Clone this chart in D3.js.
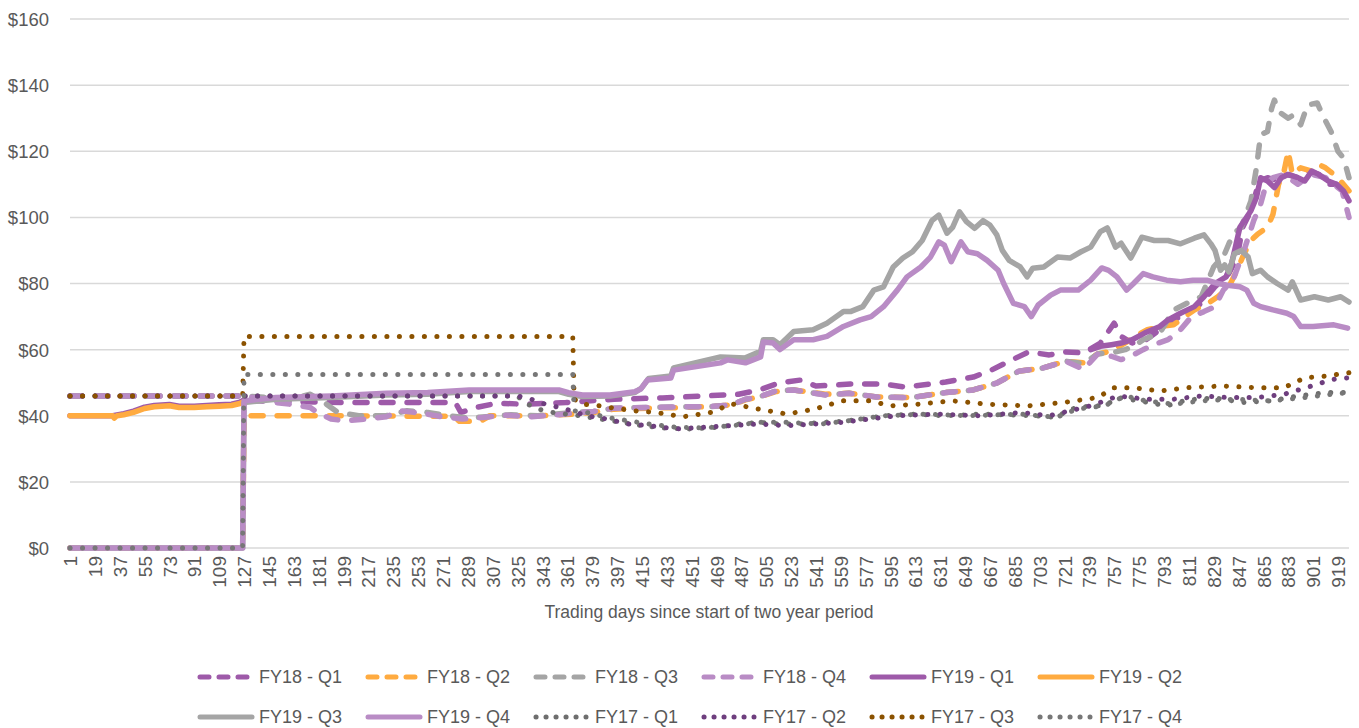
<!DOCTYPE html>
<html>
<head>
<meta charset="utf-8">
<title>Trading days</title>
<script src="https://cdn.jsdelivr.net/npm/d3@7"></script>
<style>
	body { margin: 0; background: #fff; }
	text { font-family: "Liberation Sans", Arial, sans-serif; fill: #595959; }
</style>
</head>
<body>
<div id="chart"></div>
<script>

// data: [trading day, value]
const FY18_Q1 = [[1,46],[126,46],[135,44.5],[200,44],[280,44],[284,41],[295,42.5],[310,43.8],[330,43.5],[360,44],[395,45],[430,45.4],[460,46],[485,46.5],[500,47.8],[515,50],[530,50.8],[541,49],[556,49.3],[566,49.6],[590,49.6],[605,48.7],[618,49.3],[635,50.2],[655,51.7],[668,53.8],[680,56.3],[695,59.3],[710,58.4],[722,59.3],[735,59],[747,62],[757,68],[762,64],[770,62],[780,63],[790,66],[800,69],[810,71],[820,74],[830,79],[840,83],[846,88],[850,97],[856,102],[862,111],[868,112],[876,111],[882,113],[890,112],[898,114],[905,113],[912,110],[918,110],[927,106]];
const FY18_Q2 = [[1,0],[126,0],[127,40],[200,40],[279,39.8],[283,38.3],[298,38.3],[305,40],[340,40],[365,40.5],[380,41],[395,42],[420,42.3],[445,42.5],[465,42.8],[480,43.3],[490,44.8],[500,45.7],[512,47.3],[525,47.8],[548,46.5],[565,46.8],[585,45.7],[610,45.5],[635,47],[655,47.8],[672,49.9],[688,53.5],[705,54.4],[722,56.5],[735,56],[745,58.7],[755,59.5],[765,62],[772,64],[781,66],[791,67],[800,67.5],[815,72],[825,74],[832,76],[840,79],[846,84],[851,89],[856,93],[861,95],[868,97],[872,101],[876,110],[880,114],[883,120],[886,113],[892,115],[900,114],[905,116],[910,115],[916,113],[921,111],[927,108]];
const FY18_Q3 = [[1,46],[126,46],[145,45.5],[160,45],[175,46.5],[185,44],[195,41],[210,40],[230,40],[245,41.5],[260,41],[275,40],[290,39.3],[305,39.8],[320,40.3],[340,40],[365,41],[380,41.3],[395,42.3],[420,42.5],[445,42.7],[465,42.8],[480,43.3],[490,45],[500,45.7],[512,47.5],[525,47.8],[548,46.3],[565,46.8],[585,45.7],[610,45.5],[635,47],[655,47.8],[672,49.9],[688,53.5],[705,54.4],[722,56.5],[735,55.8],[745,58.7],[755,59],[765,60],[771,61],[778,63],[790,65],[800,72],[812,74.5],[820,76],[829,85],[837,89],[843,95],[849,97],[856,105],[860,115],[863,125],[868,126],[871,133],[873,135.5],[876,132],[883,130],[887,131],[892,128],[897,134],[904,134.6],[909,130],[914,126],[919,120],[923,118],[927,112]];
const FY18_Q4 = [[1,46],[127,46],[140,45],[150,44],[160,43.5],[175,42.5],[180,41],[190,39],[200,38.5],[215,39],[230,39.7],[240,41.5],[255,40.8],[270,39.7],[285,39],[300,39.5],[315,40.2],[335,39.7],[355,40.3],[365,40.8],[380,41.3],[395,42.3],[420,42.5],[445,42.7],[465,42.8],[480,43.3],[490,45],[500,45.7],[512,47.5],[525,47.8],[548,46.3],[565,46.8],[585,45.7],[610,45.5],[635,47],[655,47.8],[672,49.9],[688,53.5],[705,54.4],[722,56.5],[735,54],[745,58.7],[755,58],[762,57],[769,58],[778,60],[789,62],[796,63],[805,66],[813,70],[822,71.5],[830,73],[836,78],[843,81],[851,90],[858,99],[863,104],[867,110],[872,112],[880,113],[890,110],[900,113],[910,112],[916,110],[922,108],[927,100]];
const FY19_Q1 = [[1,40],[32,40],[40,40.6],[47,41.4],[55,42.6],[62,43.1],[73,43.4],[80,42.9],[91,42.9],[100,43.1],[109,43.3],[118,43.5],[124,44.1],[127,44.8],
	[740,60],[747,61],[755,61.5],[762,62],[770,63],[779,65],[790,67],[796,69],[805,71],[815,73],[822,76],[830,80],[838,82],[842,86],[848,97],[856,102],[860,106],[863,112],[868,111],[873,109],[878,112],[883,113],[890,112],[895,111],[900,114],[905,113],[912,111],[918,110],[923,108],[927,105]];
const FY19_Q2 = [[1,40],[32,40],[33,39.3],[35,40],[40,40.3],[47,41],[55,42.2],[62,42.7],[73,43],[80,42.5],[91,42.5],[100,42.7],[109,42.9],[118,43.1],[124,43.7],[127,44.3]];
const FY19_Q3 = [[1,0],[126,0],[127,44],[150,45],[190,45.5],[230,46.3],[260,46.5],[290,47.3],[355,47.3],[362,46.5],[372,45.8],[392,46],[410,47],[415,48.5],[420,51.3],[436,52],[438,54.5],[472,57.8],[490,57.5],[501,59.5],[503,63],[510,63],[515,61.5],[525,65.5],[539,66],[549,68],[561,71.5],[566,71.5],[575,73],[583,78],[590,79],[597,85],[604,87.7],[611,89.6],[618,93],[625,99],[630,100.7],[636,95.2],[640,97],[645,101.7],[650,98.7],[656,96.7],[662,99],[667,97.7],[672,94.7],[676,90],[681,87],[689,85],[694,82],[698,84.6],[706,85],[716,88],[725,87.7],[733,89.6],[740,91],[747,95.7],[752,96.8],[758,91],[762,92.2],[769,87.7],[777,94],[786,93],[796,93],[805,92],[815,93.7],[822,94.7],[827,92],[830,90],[834,84],[837,85.6],[840,83.5],[844,89],[849,90],[854,88],[857,83],[863,84],[868,82],[875,80],[883,78],[886,80.5],[892,75],[902,76],[912,75],[921,76],[927,74.4]];
const FY19_Q4 = [[1,0],[126,0],[127,44.5],[150,45.5],[190,46],[230,46.8],[260,47],[290,47.8],[355,47.8],[362,47],[372,46.3],[392,46.3],[410,47.3],[414,48],[419,50.8],[436,51.4],[438,53.8],[472,56],[477,56.9],[490,56],[501,57.8],[503,62.3],[510,62],[515,60],[525,63],[539,63],[549,64],[561,67],[573,69],[581,70],[590,73],[600,78],[607,82],[617,85],[624,88],[630,92.6],[634,91.6],[639,86.6],[646,92.6],[651,89.6],[658,89],[665,87],[673,84],[677,80],[684,74],[692,73],[697,70],[702,73.5],[711,76.5],[718,78],[731,78],[740,81],[748,84.7],[753,84],[759,82],[766,78],[771,80],[778,83],[785,82],[795,81],[805,80.5],[814,81],[824,81],[832,80],[839,79.5],[848,79],[853,78],[858,74],[863,73],[872,72],[882,71],[887,70],[892,67],[901,67],[916,67.5],[926,66.5]];
const FY17_Q1 = [[1,46],[325,46],[330,44],[340,42],[350,41],[360,40.5],[370,40],[385,39],[400,38],[415,37],[430,36.3],[450,36],[470,36.5],[485,37.5],[500,38],[515,37.5],[530,37.5],[545,38],[560,38.3],[575,39],[590,40],[610,40.5],[635,40],[660,40.5],[700,40],[715,39.5],[725,42],[740,43],[750,43],[760,45.5],[775,44.5],[795,43],[810,44.8],[830,45.4],[850,44],[870,44.5],[890,46],[910,47],[927,47]];
const FY17_Q2 = [[1,46],[325,46],[335,45],[345,43.5],[360,42],[375,40],[390,39],[405,37.5],[420,37],[440,36],[460,36.5],[480,37],[500,37.5],[520,37],[540,37.5],[560,38],[580,39],[600,40],[630,40.5],[660,40],[690,41],[710,40],[725,41.5],[740,43],[760,46],[780,45],[800,45],[820,46],[840,45.5],[860,45.5],[880,46.5],[900,49],[915,51],[927,51.5]];
const FY17_Q3 = [[1,46],[126,46],[127,64],[365,64],[366,45],[372,43.5],[385,43],[395,42.3],[410,41.5],[425,41],[445,39.7],[465,41],[480,43.6],[500,42],[520,40.5],[540,42],[560,44.5],[580,44.5],[595,43],[615,43.5],[640,44.5],[665,43.5],[695,43],[720,44],[745,45.5],[757,48.5],[770,48.5],[790,47.5],[810,48.5],[835,49],[860,48.5],[880,48.5],[895,51.5],[910,52],[927,53]];
const FY17_Q4 = [[1,0],[126,0],[127,52.5],[365,52.5],[366,41.5],[375,41],[390,39.5],[405,38.5],[420,37.5],[440,36.5],[460,36.3],[480,37],[500,38],[520,38],[545,37.5],[565,38.5],[590,40],[620,40.5],[650,40],[690,40.5],[715,39.5],[730,42],[750,43],[765,46],[780,44.5],[800,43.5],[820,44.5],[845,45],[870,44.5],[895,45.5],[915,46.5],[927,47]];

const seriesNames = ["FY18 - Q1","FY18 - Q2","FY18 - Q3","FY18 - Q4","FY19 - Q1","FY19 - Q2","FY19 - Q3","FY19 - Q4","FY17 - Q1","FY17 - Q2","FY17 - Q3","FY17 - Q4"];
const seriesData = [FY18_Q1, FY18_Q2, FY18_Q3, FY18_Q4, FY19_Q1, FY19_Q2, FY19_Q3, FY19_Q4, FY17_Q1, FY17_Q2, FY17_Q3, FY17_Q4];
const yTicks = [0, 20, 40, 60, 80, 100, 120, 140, 160];
const lastDay = 927;
const xTickStep = 18;

// styling
const colors = ["#9E5AA9","#FFAB40","#A5A5A5","#B98CC5","#9E5AA9","#FFAB40","#A5A5A5","#B98CC5","#6E6E6E","#6E3E7E","#8B5200","#777777"];
const kinds  = ["dash","dash","dash","dash","solid","solid","solid","solid","dot","dot","dot","dot"];
const dashes = {dash: "12 14", solid: null, dot: "0.1 12.4"};

const width = 1359, height = 728;
const margin = {left: 70, right: 10, top: 19, bottom: 180};

const svg = d3.select("#chart").append("svg")
	.attr("width", width)
	.attr("height", height);

const x = d3.scaleLinear().domain([1, lastDay]).range([margin.left, width - margin.right]);
const y = d3.scaleLinear().domain([0, 160]).range([height - margin.bottom, margin.top]);

// gridlines
svg.append("g")
	.selectAll("line")
	.data(yTicks)
	.join("line")
	.attr("x1", margin.left)
	.attr("x2", width - margin.right)
	.attr("y1", d => y(d))
	.attr("y2", d => y(d))
	.attr("stroke", "#D9D9D9")
	.attr("stroke-width", 1.5);

// y axis
const yAxis = svg.append("g")
	.attr("transform", `translate(${margin.left - 21},0)`)
	.call(d3.axisLeft(y).tickValues(yTicks).tickFormat(d => "$" + d).tickSize(0).tickPadding(0));
yAxis.select(".domain").remove();
yAxis.selectAll("text").style("font-size", "18.5px").attr("dy", "0.35em");

// x axis
const xTicks = d3.range(1, lastDay + 1, xTickStep);
const xAxis = svg.append("g")
	.attr("transform", `translate(0,${y(0)})`)
	.call(d3.axisBottom(x).tickValues(xTicks).tickFormat(d3.format("d")).tickSize(0).tickPadding(0));
xAxis.select(".domain").remove();
xAxis.selectAll("text")
	.style("font-size", "19px")
	.attr("text-anchor", "end")
	.attr("transform", "rotate(-90)")
	.attr("x", -8)
	.attr("y", 0)
	.attr("dy", "0.35em");

svg.append("text")
	.attr("x", 709)
	.attr("y", 618)
	.attr("text-anchor", "middle")
	.style("font-size", "17.5px")
	.text("Trading days since start of two year period");

// lines
const line = d3.line()
	.x(d => x(d[0]))
	.y(d => y(d[1]))
	.defined(d => d != null);

// FY19-Q1 has a gap between its two stretches
function withGaps(data) {
	const out = [];
	data.forEach((d, i) => {
		if (i > 0 && d[0] - data[i - 1][0] > 200) out.push(null);
		out.push(d);
	});
	return out;
}

svg.append("g")
	.selectAll("path")
	.data(seriesData)
	.join("path")
	.attr("fill", "none")
	.attr("stroke", (d, i) => colors[i])
	.attr("stroke-width", (d, i) => kinds[i] === "dot" ? 5 : 5.5)
	.attr("stroke-linecap", "round")
	.attr("stroke-linejoin", "round")
	.attr("stroke-dasharray", (d, i) => dashes[kinds[i]])
	.attr("d", (d, i) => line(i === 4 ? withGaps(d) : d));

// legend
const legendStart = 198, legendStep = 168;
const legendY = [677, 717];
const legend = svg.append("g")
	.selectAll("g")
	.data(seriesNames)
	.join("g")
	.attr("transform", (d, i) => `translate(${legendStart + legendStep * (i % 6)},${legendY[Math.floor(i / 6)]})`);

legend.append("line")
	.attr("x1", 2)
	.attr("x2", (d, i) => kinds[i] === "solid" ? 54 : kinds[i] === "dot" ? 52 : 50)
	.attr("stroke", (d, i) => colors[i])
	.attr("stroke-width", 5)
	.attr("stroke-linecap", "round")
	.attr("stroke-dasharray", (d, i) => kinds[i] === "dash" ? "9 10" : kinds[i] === "dot" ? "0.1 9.9" : null);

legend.append("text")
	.attr("x", 61)
	.attr("dy", "0.35em")
	.style("font-size", "18px")
	.text(d => d);

</script>
</body>
</html>
